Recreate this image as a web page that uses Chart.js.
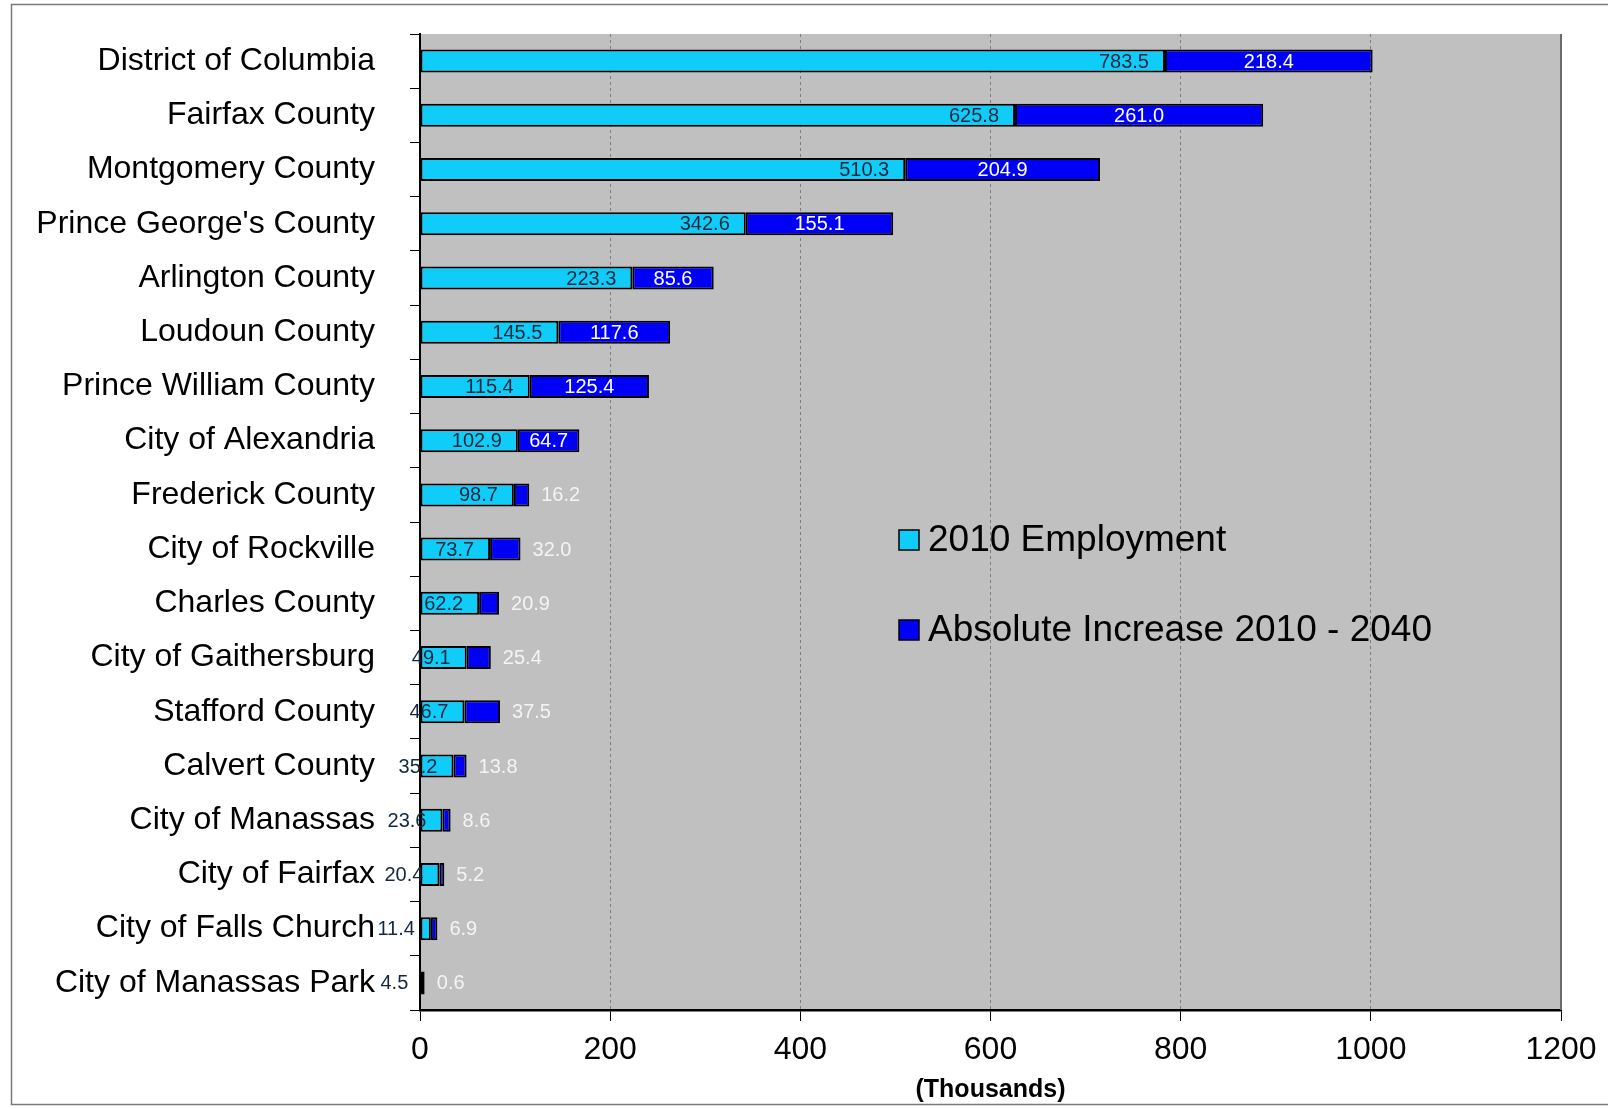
<!DOCTYPE html>
<html>
<head>
<meta charset="utf-8">
<script src="https://cdn.jsdelivr.net/npm/chart.js@4.4.0/dist/chart.umd.min.js"></script>
<style>
  html, body { margin: 0; padding: 0; background: #fff; overflow: hidden; }
  #myChart { display: block; }
</style>
</head>
<body>
<canvas id="myChart" width="1608" height="1109"></canvas>
<script>
// data
const places = ["District of Columbia", "Fairfax County", "Montgomery County", "Prince George's County",
    "Arlington County", "Loudoun County", "Prince William County", "City of Alexandria",
    "Frederick County", "City of Rockville", "Charles County", "City of Gaithersburg",
    "Stafford County", "Calvert County", "City of Manassas", "City of Fairfax",
    "City of Falls Church", "City of Manassas Park"];
const emp2010 = [783.5, 625.8, 510.3, 342.6, 223.3, 145.5, 115.4, 102.9, 98.7, 73.7, 62.2, 49.1, 46.7, 35.2, 23.6, 20.4, 11.4, 4.5];
const increase = [218.4, 261.0, 204.9, 155.1, 85.6, 117.6, 125.4, 64.7, 16.2, 32.0, 20.9, 25.4, 37.5, 13.8, 8.6, 5.2, 6.9, 0.6];
const xTicks = [0, 200, 400, 600, 800, 1000, 1200];

const FONT = "'Liberation Sans', Arial, sans-serif";

// grey plot background + outer frame
const bgPlugin = {
    id: 'bg',
    beforeDraw(chart) {
        const c = chart.ctx, a = chart.chartArea;
        c.save();
        c.strokeStyle = '#7a7a7a';
        c.lineWidth = 1.5;
        c.strokeRect(11.5, 4.5, 1640, 1100);
        c.fillStyle = '#c0c0c0';
        c.fillRect(a.left, a.top, a.right - a.left, a.bottom - a.top);
        c.restore();
    },
    afterDatasetsDraw(chart) {
        const c = chart.ctx, a = chart.chartArea;
        c.save();
        c.strokeStyle = '#6a6a6a';
        c.lineWidth = 2;
        c.beginPath();
        c.moveTo(a.right, a.top);
        c.lineTo(a.right, a.bottom);
        c.stroke();
        c.restore();
    }
};

// value labels on the bars
const labelPlugin = {
    id: 'barLabels',
    afterDatasetsDraw(chart) {
        const c = chart.ctx;
        c.save();
        c.font = '20px ' + FONT;
        c.textBaseline = 'middle';
        const m0 = chart.getDatasetMeta(0), m1 = chart.getDatasetMeta(1);
        m0.data.forEach((bar, i) => {
            c.fillStyle = '#14283c';
            c.textAlign = 'right';
            c.fillText(emp2010[i].toFixed(1), bar.x - 16, bar.y + 1);
        });
        m1.data.forEach((bar, i) => {
            const w = bar.x - bar.base;
            if (w > 50) {
                c.fillStyle = '#ffffff';
                c.textAlign = 'center';
                c.fillText(increase[i].toFixed(1), (bar.x + bar.base) / 2, bar.y + 1);
            } else {
                c.fillStyle = '#f4f4f4';
                c.textAlign = 'left';
                c.fillText(increase[i].toFixed(1), bar.x + 12, bar.y + 1);
            }
        });
        c.restore();
    }
};

// legend drawn inside plot
const legendPlugin = {
    id: 'inLegend',
    afterDraw(chart) {
        const c = chart.ctx, a = chart.chartArea;
        c.save();
        c.font = '37px ' + FONT;
        c.textBaseline = 'middle';
        chart.data.datasets.forEach((ds, i) => {
            const x = a.left + 479, y = 540 + i * 90;
            c.fillStyle = ds.backgroundColor;
            c.fillRect(x, y - 10, 20, 20);
            c.strokeStyle = '#000';
            c.lineWidth = 1.5;
            c.strokeRect(x, y - 10, 20, 20);
            c.fillStyle = '#000';
            c.textAlign = 'left';
            c.fillText(ds.label, x + 29, y + 1);
        });
        c.restore();
    }
};

const ctx = document.getElementById('myChart');

let chart1 = new Chart(ctx, {
    type: 'bar',
    data: {
        labels: places,
        datasets: [
            { label: '2010 Employment', data: emp2010, backgroundColor: '#10ccf8',
              borderColor: '#000', borderWidth: 2, borderSkipped: false,
              barPercentage: 0.424, categoryPercentage: 1 },
            { label: 'Absolute Increase 2010 - 2040', data: increase, backgroundColor: '#0000f8',
              borderColor: '#000', borderWidth: 2, borderSkipped: false,
              barPercentage: 0.424, categoryPercentage: 1 }
        ]
    },
    options: {
        indexAxis: 'y',
        responsive: false,
        devicePixelRatio: 1,
        animation: false,
        layout: { padding: { top: 34, right: 47, left: 0, bottom: 4 } },
        plugins: { legend: { display: false }, tooltip: { enabled: false } },
        scales: {
            x: {
                stacked: true,
                min: 0, max: 1200,
                afterBuildTicks: s => { s.ticks = xTicks.map(v => ({ value: v })); },
                afterFit: s => { s.height = 95; s.paddingLeft = 0; s.paddingRight = 0; },
                border: { display: true, color: '#000', width: 2.5, dash: [3, 3] },
                grid: { color: '#7c7c7c', tickColor: '#000', tickLength: 11, lineWidth: 1 },
                ticks: { color: '#000', font: { family: FONT, size: 32 }, padding: 10, maxRotation: 0,
                         callback: v => String(v) },
                title: { display: true, text: '(Thousands)', color: '#000',
                         font: { family: FONT, size: 25, weight: 'bold' }, padding: { top: 0, bottom: 0 } }
            },
            y: {
                stacked: true,
                afterFit: s => { s.width = 420; s.paddingTop = 0; s.paddingBottom = 0; },
                border: { display: true, color: '#000', width: 2 },
                grid: { drawOnChartArea: false, tickColor: '#000', tickLength: 10, offset: true },
                ticks: { color: '#000', font: { family: FONT, size: 32 }, padding: 35, autoSkip: false }
            }
        }
    },
    plugins: [bgPlugin, labelPlugin, legendPlugin]
});
</script>
</body>
</html>
